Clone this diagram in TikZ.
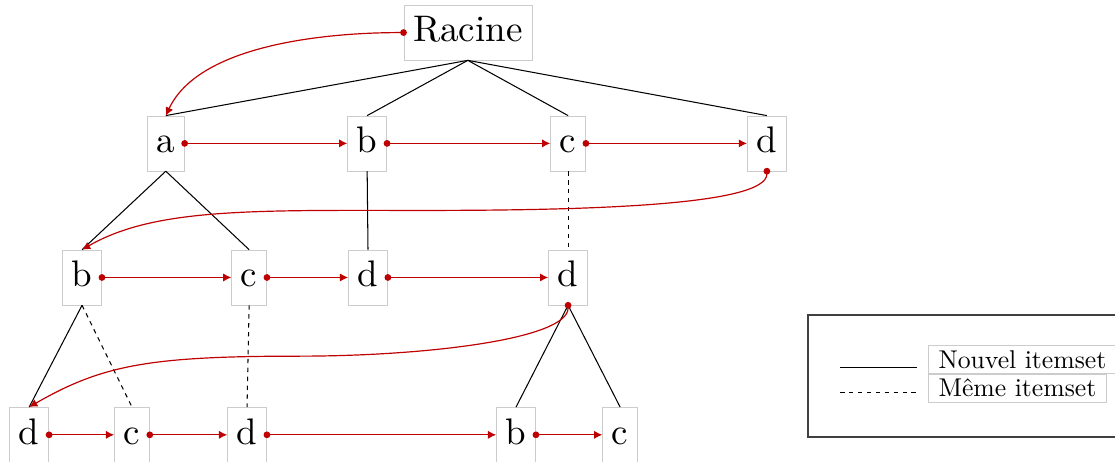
\documentclass[tikz,border=0pt]{standalone}
\usepackage{fontspec}
\setmainfont{lmroman10-regular.otf}
\usetikzlibrary{arrows.meta,calc}

\tikzset{
  noeud/.style={draw=black!20, font=\Huge, inner xsep=0.22cm, inner ysep=0pt,
    text height=0.87cm, text depth=0.43cm},
  legende/.style={draw=black!20, font=\LARGE, inner xsep=0.24cm},
  arete/.style={line width=0.7pt},
  lien/.style={red!75!black, line width=0.8pt, shorten <=-2.25pt,
    {Circle[length=4.5pt]}-{Latex[length=5.5pt,width=5.5pt]}},
}

\begin{document}
\begin{tikzpicture}
  \useasboundingbox (0,0) rectangle (26.36,-10.92);
  %% racine
  \node[noeud] (r) at (11.06,-0.77) {Racine};
  %% niveau 1
  \node[noeud] (a) at (3.92,-3.39) {a};
  \node[noeud] (b) at (8.68,-3.39) {b};
  \node[noeud] (c) at (13.43,-3.39) {c};
  \node[noeud] (d) at (18.13,-3.39) {d};
  %% niveau 2
  \node[noeud] (ab) at (1.94,-6.56) {b};
  \node[noeud] (ac) at (5.89,-6.56) {c};
  \node[noeud] (bd) at (8.70,-6.56) {d};
  \node[noeud] (cd) at (13.43,-6.56) {d};
  %% niveau 3
  \node[noeud] (abd) at (0.69,-10.28) {d};
  \node[noeud] (abc) at (3.12,-10.28) {c};
  \node[noeud] (acd) at (5.84,-10.28) {d};
  \node[noeud] (cdb) at (12.20,-10.28) {b};
  \node[noeud] (cdc) at (14.66,-10.28) {c};

  %% aretes de l'arbre
  \draw[arete] (r.south) -- (a.north);
  \draw[arete] (r.south) -- (b.north);
  \draw[arete] (r.south) -- (c.north);
  \draw[arete] (r.south) -- (d.north);
  \draw[arete] (a.south) -- (ab.north);
  \draw[arete] (a.south) -- (ac.north);
  \draw[arete] (b.south) -- (bd.north);
  \draw[arete, dashed] (c.south) -- (cd.north);
  \draw[arete] (ab.south) -- (abd.north);
  \draw[arete, dashed] (ab.south) -- (abc.north);
  \draw[arete, dashed] (ac.south) -- (acd.north);
  \draw[arete] (cd.south) -- (cdb.north);
  \draw[arete] (cd.south) -- (cdc.north);

  %% liens entre noeuds
  \draw[lien] (r.west) to[out=180, in=65, out distance=2cm, in distance=1.8cm] (a.north);
  \draw[lien] (a.east) -- (b.west);
  \draw[lien] (b.east) -- (c.west);
  \draw[lien] (c.east) -- (d.west);
  \draw[lien] (d.south) to[out=-90, in=0, out distance=0.8cm, in distance=4cm]
    ($(d.south)!0.5!(ab.north)$)
    to[out=180, in=30, out distance=4cm, in distance=2cm] (ab.north);
  \draw[lien] (ab.east) -- (ac.west);
  \draw[lien] (ac.east) -- (bd.west);
  \draw[lien] (bd.east) -- (cd.west);
  \draw[lien] (cd.south) to[out=-90, in=0, out distance=0.8cm, in distance=3cm]
    ($(cd.south)!0.5!(abd.north)$)
    to[out=180, in=30, out distance=3.5cm, in distance=2cm] (abd.north);
  \draw[lien] (abd.east) -- (abc.west);
  \draw[lien] (abc.east) -- (acd.west);
  \draw[lien] (acd.east) -- (cdb.west);
  \draw[lien] (cdb.east) -- (cdc.west);

  %% legende
  \draw[black!75, line width=1pt] (19.10,-7.45) rectangle (26.48,-10.33);
  \node[legende, anchor=north west] (nouvel) at (21.94,-8.16) {Nouvel itemset};
  \node[legende, anchor=north west] (meme) at (nouvel.south west) {Même itemset};
  \draw[arete] (19.86,-8.68) -- (21.68,-8.68);
  \draw[arete, dashed] (19.86,-9.29) -- (21.68,-9.29);
\end{tikzpicture}
\end{document}
